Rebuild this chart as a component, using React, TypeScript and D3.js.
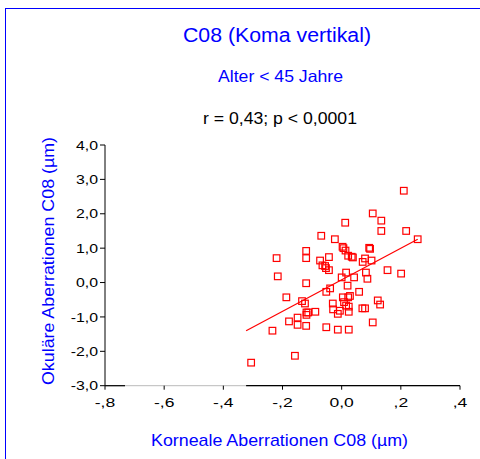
import React from "react";
import * as d3 from "d3";

const xValues = [0.210,0.105,0.134,0.012,0.134,0.218,-0.069,-0.023,0.257,0.003,0.006,0.013,0.093,0.096,-0.120,0.022,0.034,0.038,-0.220,-0.120,-0.043,0.079,-0.073,0.071,0.101,-0.065,-0.056,-0.053,-0.043,0.015,0.155,0.082,0.201,-0.216,0.000,0.042,0.087,-0.120,0.020,-0.039,-0.052,0.059,-0.187,0.004,0.022,0.028,0.122,-0.134,-0.124,-0.030,0.008,0.015,0.024,0.024,-0.006,-0.013,0.130,0.070,0.079,-0.119,-0.113,-0.119,-0.089,-0.178,-0.149,-0.149,-0.120,-0.052,-0.013,0.024,0.105,-0.234,-0.158,-0.306,-0.029];
const yValues = [2.67,2.01,1.80,1.74,1.50,1.50,1.36,1.26,1.26,1.04,1.00,0.93,1.01,0.98,0.92,0.78,0.75,0.73,0.71,0.71,0.74,0.70,0.64,0.60,0.64,0.50,0.48,0.42,0.36,0.29,0.36,0.29,0.26,0.18,0.15,0.15,0.11,-0.02,-0.09,-0.17,-0.27,-0.27,-0.43,-0.43,-0.43,-0.39,-0.52,-0.54,-0.61,-0.61,-0.57,-0.67,-0.70,-0.85,-0.82,-0.91,-0.64,-0.75,-0.75,-0.87,-0.87,-0.94,-0.85,-1.13,-1.02,-1.23,-1.26,-1.30,-1.37,-1.37,-1.16,-1.40,-2.13,-2.33,-0.78];
const fitX = [-0.323, 0.257];
const fitY = [-1.40, 1.26];
const xTicks = [-0.8, -0.6, -0.4, -0.2, 0, 0.2, 0.4];
const xTickLabels = ["-,8", "-,6", "-,4", "-,2", "0,0", ",2", ",4"];
const yTicks = [4, 3, 2, 1, 0, -1, -2, -3];
const yTickLabels = ["4,0", "3,0", "2,0", "1,0", "0,0", "-1,0", "-2,0", "-3,0"];

const title = "C08 (Koma vertikal)";
const subtitle = "Alter < 45 Jahre";
const stats = "r = 0,43; p < 0,0001";
const xTitle = "Korneale Aberrationen C08 (µm)";
const yTitle = "Okuläre Aberrationen C08 (µm)";

export default function App() {
  const x = d3.scaleLinear().domain([-0.8, 0.4]).range([105, 460]);
  const y = d3.scaleLinear().domain([-3, 4]).range([385.7, 145]);
  const font = "Arial, 'Liberation Sans', sans-serif";
  const blue = "#0000ff";
  const red = "#ff0000";
  const line = d3.line<number>().x((d, i) => x(fitX[i])).y((d, i) => y(fitY[i]));
  const s = 6.6;
  return (
    <svg width={480} height={459} style={{ position: "absolute", left: 0, top: 0 }} fontFamily={font}>
      <rect x={0} y={0} width={480} height={459} fill="#fff" />
      <rect x={5.5} y={8.5} width={500} height={500} fill="none" stroke={blue} strokeWidth={1} />
      <text x={277} y={42} textAnchor="middle" fontSize={19.5} fill={blue} textLength={188} lengthAdjust="spacingAndGlyphs">{title}</text>
      <text x={280.5} y={82} textAnchor="middle" fontSize={16.5} fill={blue} textLength={125} lengthAdjust="spacingAndGlyphs">{subtitle}</text>
      <text x={280} y={124} textAnchor="middle" fontSize={17} fill="#000" textLength={154} lengthAdjust="spacingAndGlyphs">{stats}</text>
      {/* y axis */}
      <line x1={105} x2={105} y1={y(4)} y2={y(-3)} stroke="#000" strokeWidth={1} />
      {yTicks.map((t, i) => (
        <g key={t}>
          <line x1={100} x2={105} y1={y(t)} y2={y(t)} stroke="#000" />
          <text transform={`translate(98,${y(t) + 4.6}) scale(1.22,1)`} textAnchor="end" fontSize={13} fill="#000">{yTickLabels[i]}</text>
        </g>
      ))}
      {/* x axis */}
      <line x1={105} x2={460} y1={y(-3)} y2={y(-3)} stroke="#bbb" strokeWidth={1} />
      <line x1={105} x2={125} y1={y(-3)} y2={y(-3)} stroke="#000" strokeWidth={1.2} />
      <line x1={x(fitX[0])} x2={460} y1={y(-3)} y2={y(-3)} stroke="#000" strokeWidth={1.2} />
      {xTicks.map((t, i) => (
        <g key={t}>
          <line x1={x(t)} x2={x(t)} y1={y(-3)} y2={y(-3) + 4} stroke="#000" />
          <text transform={`translate(${x(t)},406.5) scale(1.3,1)`} textAnchor="middle" fontSize={13.5} fill="#000">{xTickLabels[i]}</text>
        </g>
      ))}
      <text x={279.5} y={446} textAnchor="middle" fontSize={17} fill={blue} textLength={257} lengthAdjust="spacingAndGlyphs">{xTitle}</text>
      <text transform={`translate(54,261) rotate(-90)`} textAnchor="middle" fontSize={17} fill={blue} textLength={248} lengthAdjust="spacingAndGlyphs">{yTitle}</text>
      <path d={line(fitX) || ""} fill="none" stroke={red} strokeWidth={1.2} />
      {xValues.map((v, i) => (
        <rect key={i} x={x(v) - s / 2} y={y(yValues[i]) - s / 2} width={s} height={s} fill="none" stroke={red} strokeWidth={1.2} />
      ))}
    </svg>
  );
}
